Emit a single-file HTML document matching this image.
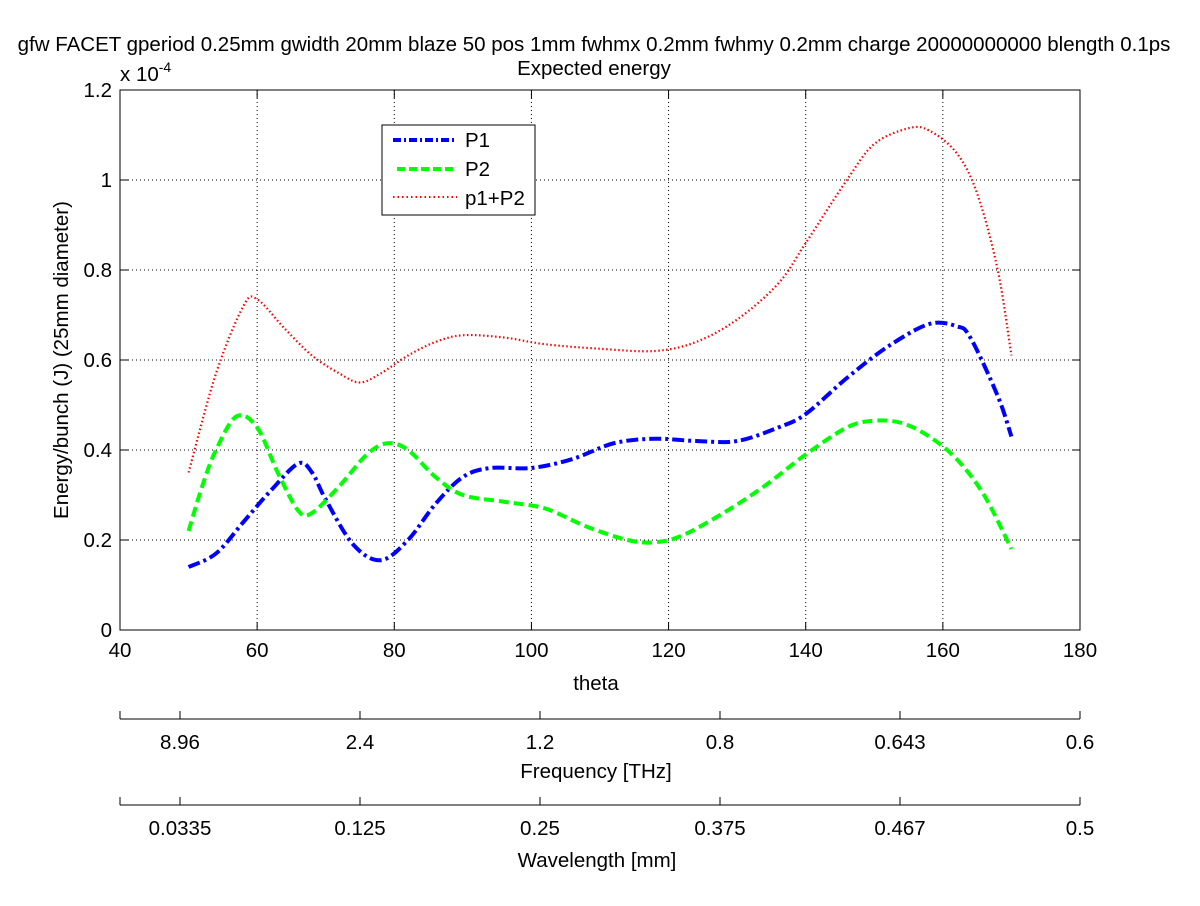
<!DOCTYPE html>
<html><head><meta charset="utf-8"><style>
body{margin:0;background:#fff}
svg text{font-family:"Liberation Sans",sans-serif;font-size:20.5px;fill:#000}
</style></head><body>
<svg id="c" width="1200" height="901" xmlns="http://www.w3.org/2000/svg">
<rect width="1200" height="901" fill="#fff"/>
<text x="594" y="51" text-anchor="middle">gfw FACET gperiod 0.25mm gwidth 20mm blaze 50 pos 1mm fwhmx 0.2mm fwhmy 0.2mm charge 20000000000 blength 0.1ps</text>
<text x="594" y="75" text-anchor="middle">Expected energy</text>
<text x="120" y="81">x 10<tspan dy="-9" font-size="14">-4</tspan></text>
<text transform="translate(68,360) rotate(-90)" text-anchor="middle">Energy/bunch (J) (25mm diameter)</text>
<text x="596" y="690" text-anchor="middle">theta</text>
<g id="grid"></g>
<g id="axes"></g>
<g id="series"></g>
<g>
<rect x="382" y="125" width="153" height="90" fill="#fff" stroke="#000" stroke-width="1"/>
<g><line x1="393" y1="140" x2="457" y2="140" stroke="#0000ff" stroke-width="4" stroke-dasharray="8,3,2,3"/><text x="465" y="147">P1</text></g>
<g><line x1="397" y1="169" x2="457" y2="169" stroke="#00ff00" stroke-width="4" stroke-dasharray="8,4"/><text x="465" y="176">P2</text></g>
<g><line x1="393" y1="197" x2="457" y2="197" stroke="#ff0000" stroke-width="2" stroke-dasharray="1.5,3"/><text x="465" y="205">p1+P2</text></g>
</g>
<g id="fax"></g>
<text x="596" y="778" text-anchor="middle">Frequency [THz]</text>
<g id="wax"></g>
<text x="597" y="867" text-anchor="middle">Wavelength [mm]</text>
</svg>
<script>
const xTicks=[40,60,80,100,120,140,160,180];
const yTicks=[0,0.2,0.4,0.6,0.8,1,1.2];
const yTickLabels=["0","0.2","0.4","0.6","0.8","1","1.2"];
const freqLabels=["8.96","2.4","1.2","0.8","0.643","0.6"];
const waveLabels=["0.0335","0.125","0.25","0.375","0.467","0.5"];
const p1X=[50,54,58,62,66,68,70,74,78,82,86,90,94,100,106,112,118,124,130,136,140,146,152,158,162,164,168,170];
const p1Y=[0.14,0.17,0.24,0.31,0.37,0.35,0.29,0.19,0.155,0.2,0.28,0.34,0.36,0.36,0.38,0.415,0.425,0.42,0.42,0.45,0.48,0.56,0.63,0.68,0.675,0.65,0.52,0.43];
const p2X=[50,52,54,57,60,63,66,68,72,76,79,82,86,90,96,102,108,114,118,122,128,134,140,146,150,154,158,162,166,170];
const p2Y=[0.22,0.32,0.40,0.475,0.45,0.35,0.265,0.26,0.32,0.39,0.415,0.40,0.34,0.30,0.285,0.27,0.23,0.2,0.195,0.21,0.26,0.32,0.39,0.45,0.465,0.46,0.43,0.38,0.3,0.18];
const sX=[50,54,58,60,64,68,72,75,78,82,86,90,96,102,110,118,124,130,136,140,146,150,155,158,162,165,168,170];
const sY=[0.35,0.57,0.72,0.735,0.67,0.61,0.57,0.55,0.57,0.61,0.64,0.655,0.65,0.635,0.625,0.62,0.64,0.69,0.77,0.86,1.0,1.08,1.115,1.11,1.06,0.97,0.8,0.61];
const NS="http://www.w3.org/2000/svg";
const X0=120,X1=1080,Y0=630,Y1=90;
const sx=v=>X0+(v-40)/(180-40)*(X1-X0);
const sy=v=>Y0-(v/1.2)*(Y0-Y1);
function mk(tag,attrs,parent){const e=document.createElementNS(NS,tag);for(const k in attrs)e.setAttribute(k,attrs[k]);parent.appendChild(e);return e;}
const grid=document.getElementById('grid'),axes=document.getElementById('axes');
xTicks.forEach(t=>{
 if(t>40&&t<180){const l=mk('line',{x1:sx(t),x2:sx(t),y1:Y1,y2:Y0,stroke:'#000','stroke-width':1,'stroke-dasharray':'1,3'},grid);
 
 }
 mk('line',{x1:sx(t),x2:sx(t),y1:Y0,y2:Y0-8,stroke:'#000'},axes);
 mk('line',{x1:sx(t),x2:sx(t),y1:Y1,y2:Y1+8,stroke:'#000'},axes);
 const tx=mk('text',{x:sx(t),y:Y0+27,'text-anchor':'middle'},axes);tx.textContent=t;
 
 
});
yTicks.forEach((t,i)=>{
 if(t>0&&t<1.2){const l=mk('line',{x1:X0,x2:X1,y1:sy(t),y2:sy(t),stroke:'#000','stroke-width':1,'stroke-dasharray':'1,3'},grid);
 
 }
 mk('line',{x1:X0,x2:X0+8,y1:sy(t),y2:sy(t),stroke:'#000'},axes);
 mk('line',{x1:X1,x2:X1-8,y1:sy(t),y2:sy(t),stroke:'#000'},axes);
 const tx=mk('text',{x:X0-8,y:sy(t)+7,'text-anchor':'end'},axes);tx.textContent=yTickLabels[i];
 
 
});
mk('rect',{x:X0,y:Y1,width:X1-X0,height:Y0-Y1,fill:'none',stroke:'#000'},axes);
function path(xs,ys){
 const p=xs.map((x,i)=>[sx(x),sy(ys[i])]);let d='M'+p[0][0]+','+p[0][1];
 for(let i=0;i<p.length-1;i++){const a=p[i-1]||p[i],b=p[i],c=p[i+1],e=p[i+2]||c;
  d+=` C${b[0]+(c[0]-a[0])/6},${b[1]+(c[1]-a[1])/6} ${c[0]-(e[0]-b[0])/6},${c[1]-(e[1]-b[1])/6} ${c[0]},${c[1]}`;}
 return d;}
const ser=document.getElementById('series');
let e=mk('path',{d:path(p1X,p1Y),fill:'none',stroke:'#0000ff','stroke-width':4,'stroke-dasharray':'12,4,3,4'},ser);


e=mk('path',{d:path(p2X,p2Y),fill:'none',stroke:'#00ff00','stroke-width':4,'stroke-dasharray':'10,5'},ser);


e=mk('path',{d:path(sX,sY),fill:'none',stroke:'#ff0000','stroke-width':2.2,'stroke-dasharray':'1.5,2.5'},ser);


function secAxis(g,y,labels){
 mk('line',{x1:X0,x2:X1,y1:y,y2:y,stroke:'#000'},g);
 mk('line',{x1:X0,x2:X0,y1:y,y2:y-8,stroke:'#000'},g);
 labels.forEach((l,i)=>{const x=180+i*180;
  mk('line',{x1:x,x2:x,y1:y,y2:y-8,stroke:'#000'},g);
  const t=mk('text',{x:x,y:y+30,'text-anchor':'middle'},g);t.textContent=l;
  
  });
}
secAxis(document.getElementById('fax'),719,freqLabels);
secAxis(document.getElementById('wax'),805,waveLabels);
</script>
</body></html>
